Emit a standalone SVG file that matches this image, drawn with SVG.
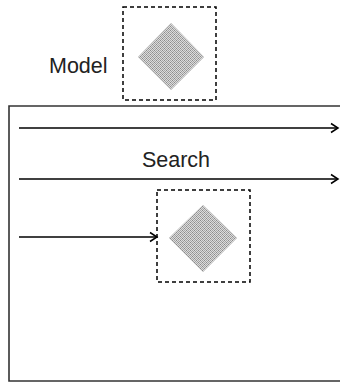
<svg xmlns="http://www.w3.org/2000/svg" width="340" height="383" viewBox="0 0 340 383">
<style>
.lbl{font-family:"Liberation Sans",Arial,sans-serif;font-size:21.5px;fill:#222}
.box{fill:none;stroke:#000;stroke-width:1.5;stroke-dasharray:4 3}
.dia{fill:url(#dith);stroke:#ccc;stroke-width:0.5}
.edge{stroke:#000;stroke-width:1.3;fill:none}
.frame{fill:none;stroke:#333;stroke-width:1.6}
</style>
<defs>
<pattern id="dith" width="4" height="4" patternUnits="userSpaceOnUse">
<rect width="4" height="4" fill="#dcdcdc"/>
<rect x="0" y="0" width="1" height="1" fill="#8a8a8a"/>
<rect x="2" y="0" width="1" height="1" fill="#a8a8a8"/>
<rect x="1" y="1" width="1" height="1" fill="#a0a0a0"/>
<rect x="3" y="1" width="1" height="1" fill="#a0a0a0"/>
<rect x="0" y="2" width="1" height="1" fill="#a8a8a8"/>
<rect x="2" y="2" width="1" height="1" fill="#8a8a8a"/>
<rect x="1" y="3" width="1" height="1" fill="#a0a0a0"/>
<rect x="3" y="3" width="1" height="1" fill="#a0a0a0"/>
</pattern>
<marker id="arr" markerWidth="12" markerHeight="12" refX="10" refY="6" orient="auto" markerUnits="userSpaceOnUse">
<path d="M3,1.5 L10,6 L3,10.5" fill="none" stroke="#000" stroke-width="1.5"/>
</marker>
</defs>
<path class="frame" d="M341,106 H9 V381 H341"/>
<g id="model">
<rect class="box" x="123" y="7" width="93" height="93"/>
<polygon class="dia" points="171,23 204,57 171,90 138,57"/>
<text class="lbl" x="49" y="73">Model</text>
</g>
<g id="search-label">
<text class="lbl" x="176" y="167" text-anchor="middle">Search</text>
</g>
<g id="target">
<rect class="box" x="157" y="190" width="93" height="92"/>
<polygon class="dia" points="203,205 237,238 203,272 169,238"/>
</g>
<g id="connectors">
<line class="edge" x1="19" y1="128" x2="338" y2="128" marker-end="url(#arr)"/>
<line class="edge" x1="19" y1="179" x2="338" y2="179" marker-end="url(#arr)"/>
<line class="edge" x1="19" y1="237" x2="157" y2="237" marker-end="url(#arr)"/>
</g>
</svg>
